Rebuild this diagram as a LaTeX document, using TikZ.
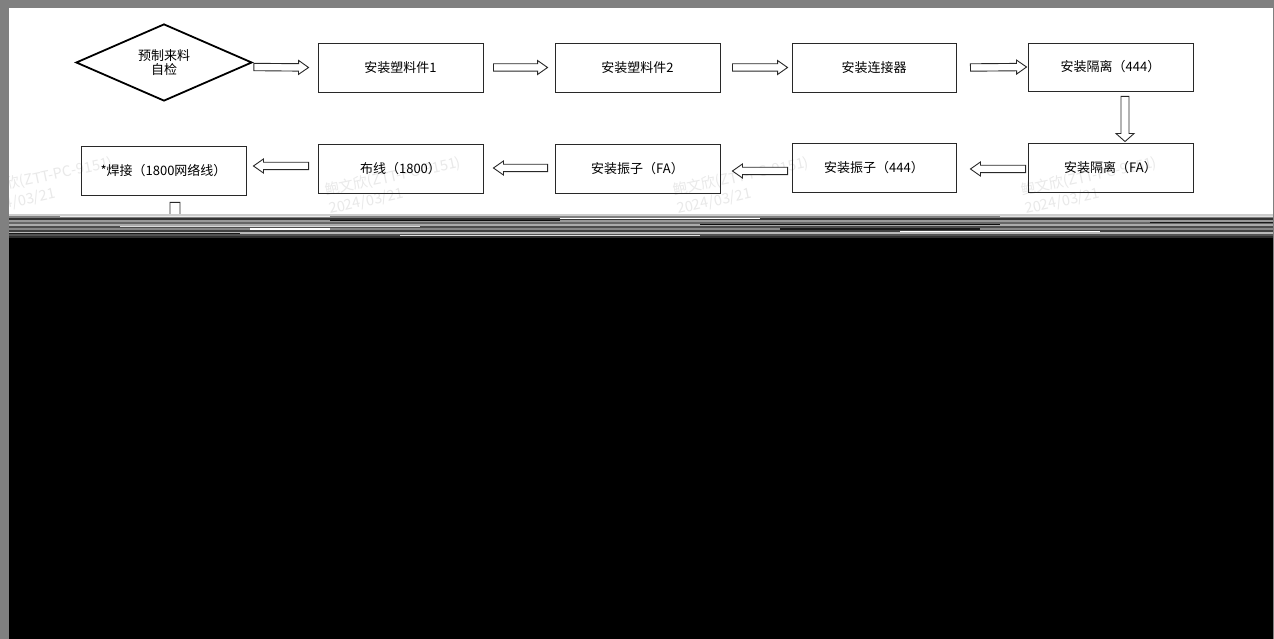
\documentclass[tikz,border=0pt]{standalone}
\usepackage{fontspec}
\newfontfamily\cjk{Noto Sans CJK SC}
\usetikzlibrary{calc,shapes.geometric}
\definecolor{framegray}{RGB}{128,128,128}
\definecolor{wmgray}{RGB}{233,233,233}
\definecolor{linegray}{RGB}{40,40,40}
\newcommand\blockarrow[5]{%
  \coordinate (ba-s) at #1;
  \coordinate (ba-e) at #2;
  \coordinate (ba-h) at ($(ba-e)!#5!(ba-s)$);
  \draw[arrowline] ($(ba-s)!#3!90:(ba-e)$) -- ($(ba-h)!#3!90:(ba-e)$) -- ($(ba-h)!#4!90:(ba-e)$) -- (ba-e)
    -- ($(ba-h)!#4!-90:(ba-e)$) -- ($(ba-h)!#3!-90:(ba-e)$) -- ($(ba-s)!#3!-90:(ba-e)$) -- cycle;
}
\begin{document}
\begin{tikzpicture}[x=1pt,y=-1pt,
  stepbox/.style={draw=linegray, line width=0.9pt, rectangle, minimum width=165pt, minimum height=49pt,
    inner sep=0pt, font=\cjk\fontsize{13}{15}\selectfont},
  decide/.style={draw=black, line width=1.8pt, diamond, aspect=2.3, minimum width=176pt, minimum height=77pt,
    inner sep=0pt, align=center, font=\cjk\fontsize{13}{14}\selectfont},
  arrowline/.style={draw=linegray, line width=0.9pt, fill=white, line join=miter},
  wmark/.style={text=wmgray, rotate=12, anchor=base west, inner sep=0pt, font=\cjk\fontsize{14.5}{16}\selectfont}
]
% background frame
\fill[framegray] (0,0) rectangle (1274,639);
\fill[white] (9,8) rectangle (1273,214);
% watermarks
\begin{scope}
\clip (9,8) rectangle (1273,214);
\foreach \wx in {-22,326,674,1022}{
  \node[wmark] (wm1-\wx) at (\wx,196) {鲍文欣(ZTT-PC-9151)};
  \node[wmark] (wm2-\wx) at (\wx+4,214) {2024/03/21};
}
\end{scope}
% nodes
\node[decide] (d) at (164,62.5) {预制来料\\自检};
\node[stepbox] (b1) at (400.5,67.5) {安装塑料件1};
\node[stepbox] (b2) at (637.5,67.5) {安装塑料件2};
\node[stepbox, minimum width=164pt] (b3) at (874,67.5) {安装连接器};
\node[stepbox, minimum height=48pt] (b4) at (1110.5,67) {安装隔离（444）};
\node[stepbox] (b5) at (1110.5,167.5) {安装隔离（FA）};
\node[stepbox, minimum width=164pt] (b6) at (874,167.5) {安装振子（444）};
\node[stepbox] (b7) at (637.5,168.5) {安装振子（FA）};
\node[stepbox] (b8) at (400.5,168.5) {布线（1800）};
\node[stepbox] (b9) at (163.5,170.5) {*焊接（1800网络线）};
\coordinate (nxt) at (175,275);
% block arrows
\blockarrow{($(d.east)+(1,4.5)$)}{($(b1.west)+(-9,0)$)}{3.7pt}{7pt}{10pt}
\blockarrow{($(b1.east)+(10,0)$)}{($(b2.west)+(-7,0)$)}{3.7pt}{7pt}{10pt}
\blockarrow{($(b2.east)+(12,0)$)}{($(b3.west)+(-4,0)$)}{3.7pt}{7pt}{10pt}
\blockarrow{($(b3.east)+(14,0)$)}{($(b4.west)+(-1,0)$)}{3.7pt}{7pt}{10pt}
\blockarrow{($(b4.south)+(14.5,5)$)}{($(b5.north)+(14.5,-1)$)}{4pt}{9pt}{8pt}
\blockarrow{($(b5.west)+(-2,1.5)$)}{($(b6.east)+(14,1.5)$)}{3.7pt}{7pt}{10pt}
\blockarrow{($(b6.west)+(-4,3.5)$)}{($(b7.east)+(12,2.5)$)}{3.7pt}{7pt}{10pt}
\blockarrow{($(b7.west)+(-7,-0.5)$)}{($(b8.east)+(10,-0.5)$)}{3.7pt}{7pt}{10pt}
\blockarrow{($(b8.west)+(-9,-2.5)$)}{($(b9.east)+(7,-4.5)$)}{3.7pt}{7pt}{10pt}
\blockarrow{($(b9.south)+(11.5,7)$)}{(nxt)}{5pt}{10pt}{9pt}
% glitch band
\fill[black!20] (9,214) rectangle (1273,216);
\fill[black!50] (9,216) rectangle (1273,218);
\fill[black!80] (9,218) rectangle (1273,220);
\fill[black!40] (9,220) rectangle (1273,222);
\fill[black!60] (9,222) rectangle (1273,224);
\fill[black!33] (9,224) rectangle (1273,226);
\fill[black!70] (9,226) rectangle (1273,228);
\fill[black!47] (9,228) rectangle (1273,230);
\fill[black!75] (9,230) rectangle (1273,232);
\fill[black!28] (9,232) rectangle (1273,234);
\fill[black!68] (9,234) rectangle (1273,236);
\fill[black!82] (9,236) rectangle (1273,238);
% variation segments
\fill[black!8] (60,216.5) rectangle (330,217.5);
\fill[black!95] (330,220.5) rectangle (560,221.5);
\fill[white] (560,218.5) rectangle (760,219.5);
\fill[black!15] (120,226.5) rectangle (420,227.5);
\fill[black!95] (700,224.5) rectangle (1000,225.5);
\fill[white] (900,230.5) rectangle (1100,231.5);
\fill[black!90] (9,232.5) rectangle (240,233.5);
\fill[black!12] (1000,216.5) rectangle (1273,217.5);
\fill[black!12] (400,234.5) rectangle (700,235.5);
\fill[black!90] (1150,222.5) rectangle (1273,223.5);
\fill[white] (250,228.5) rectangle (330,229.5);
\fill[black!90] (780,228.5) rectangle (980,229.5);
% dark lower part
\fill[black] (9,238) rectangle (1273,639);
\useasboundingbox (0,0) rectangle (1274,639);
\end{tikzpicture}
\end{document}
